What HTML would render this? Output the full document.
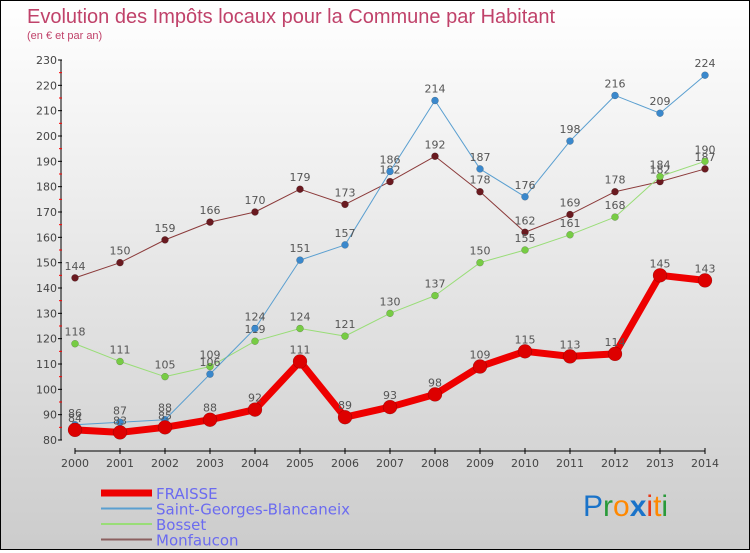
<!DOCTYPE html>
<html><head><meta charset="utf-8"><style>
body{margin:0;}
#c{width:748px;height:548px;border:1px solid #000;background:linear-gradient(#fff,#ccc);position:relative;font-family:"DejaVu Sans","Liberation Sans",sans-serif;}
</style></head><body>
<div id="c">
<svg id="s" width="748" height="548">
<text x="26" y="22" font-size="20" fill="#c0426a" font-family="Liberation Sans, sans-serif">Evolution des Impôts locaux pour la Commune par Habitant</text>
<text x="26" y="38" font-size="11" fill="#c0426a" font-family="Liberation Sans, sans-serif">(en € et par an)</text>
<g font-size="30" font-family="Liberation Sans, sans-serif">
<text x="582" y="515"><tspan fill="#1a73c9">P</tspan><tspan fill="#2a9a3a">r</tspan><tspan fill="#ff8800">o</tspan><tspan fill="#1a73c9" font-weight="bold">x</tspan><tspan fill="#e83a1a">i</tspan><tspan fill="#ff8800">t</tspan><tspan fill="#2a9a3a">i</tspan></text>
</g>
</svg></div>
<script>
const years=[2000,2001,2002,2003,2004,2005,2006,2007,2008,2009,2010,2011,2012,2013,2014];
const fraisse=[84,83,85,88,92,111,89,93,98,109,115,113,114,145,143];
const stGeorges=[86,87,88,106,124,151,157,186,214,187,176,198,216,209,224];
const bosset=[118,111,105,109,119,124,121,130,137,150,155,161,168,184,190];
const monfaucon=[144,150,159,166,170,179,173,182,192,178,162,169,178,182,187];
const yTicks=[80,90,100,110,120,130,140,150,160,170,180,190,200,210,220,230];
const names=["FRAISSE","Saint-Georges-Blancaneix","Bosset","Monfaucon"];
const NS="http://www.w3.org/2000/svg";
const svg=document.getElementById('s');
const X=i=>74+i*45;
const Y=v=>439-(v-80)*380/150;
function mk(t,a,p){const e=document.createElementNS(NS,t);for(const k in a)e.setAttribute(k,a[k]);(p||svg).appendChild(e);return e;}
const ya=mk('g',{});


mk('line',{x1:60,y1:Y(230),x2:60,y2:Y(80),stroke:'#000','stroke-width':1},ya);
yTicks.forEach(v=>{mk('line',{x1:57,y1:Y(v),x2:61,y2:Y(v),stroke:'#000'},ya);
 if(v<230)mk('line',{x1:58,y1:Y(v+5),x2:61,y2:Y(v+5),stroke:'#f00'},ya);
 const t=mk('text',{x:56,y:Y(v)+4,'font-size':11,fill:'#444','text-anchor':'end'},ya);t.textContent=v;});
const xa=mk('g',{});


mk('line',{x1:X(0),y1:450,x2:X(14),y2:450,stroke:'#000'},xa);
years.forEach((y,i)=>{mk('line',{x1:X(i),y1:447,x2:X(i),y2:453,stroke:'#000'},xa);
 const t=mk('text',{x:X(i),y:466,'font-size':11,fill:'#444','text-anchor':'middle'},xa);t.textContent=y;});
function series(data,color,dot,w,r,name){
 const g=mk('g',{});
 
 
 mk('polyline',{points:data.map((v,i)=>X(i)+','+Y(v)).join(' '),fill:'none',stroke:color,'stroke-width':w,'stroke-linejoin':'round'},g);
 data.forEach((v,i)=>{mk('circle',{cx:X(i),cy:Y(v),r:r,fill:dot,stroke:'rgba(0,0,0,0.3)','stroke-width':0.5},g);
  const t=mk('text',{x:X(i),y:Y(v)-8,'font-size':11,fill:'#555','text-anchor':'middle'},g);t.textContent=v;});
}
series(monfaucon,'#8b3a3a','#6a1a20',1,3.5,'series-monfaucon');
series(bosset,'#99dd77','#77cc44',1,3.5,'series-bosset');
series(stGeorges,'#5a9fd0','#3a88cc',1,3.5,'series-saint-georges');
series(fraisse,'#ee0000','#dd0000',7,7,'series-fraisse');
const cols=[['#ee0000',7],['#5a9fd0',2],['#99dd77',2],['#8b6060',2]];
names.forEach((n,i)=>{const g=mk('g',{});
 
 
 const yy=492+i*15.5;
 mk('line',{x1:100,y1:yy,x2:151,y2:yy,stroke:cols[i][0],'stroke-width':cols[i][1]},g);
 const t=mk('text',{x:155,y:yy+6,'font-size':15,fill:'#6b6bf0'},g);t.textContent=n;});
</script>
</body></html>
